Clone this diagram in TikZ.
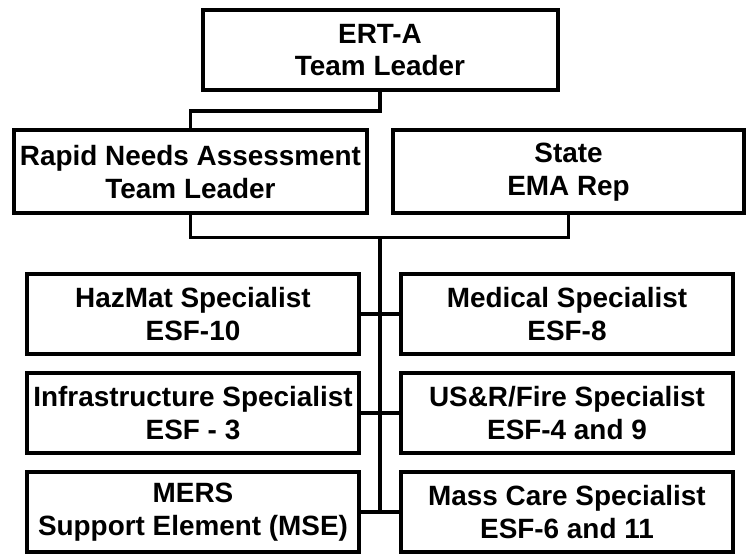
\documentclass[tikz,border=0pt]{standalone}
\usepackage{fontspec}
\setmainfont{Liberation Sans}
\usetikzlibrary{positioning}

\begin{document}
\begin{tikzpicture}[x=1bp, y=-1bp, node distance=15bp and 38bp]
      \useasboundingbox (0,0) rectangle (749,557);
      \begin{scope}[every node/.style={draw,line width=4bp,align=center,inner sep=0pt,
          minimum width=332bp,minimum height=80bp,font=\fontsize{28}{33}\selectfont\bfseries}]
        \node (ert) [minimum width=355bp] at (380,50) {ERT-A\\Team Leader};
        \node (rna) [minimum width=353bp,minimum height=83bp] at (190.5,172) {Rapid Needs Assessment\\Team Leader};
        \node (state) [minimum width=351bp,minimum height=83bp] [right=22bp of rna] {State\\EMA Rep};
        \node (hazmat) at (193,314) {HazMat Specialist\\ESF-10};
        \node (medical) [right=of hazmat] {Medical Specialist\\ESF-8};
        \node (infra) [below=of hazmat] {Infrastructure Specialist\\ESF - 3};
        \node (usr) [right=of infra] {US\&R/Fire Specialist\\ESF-4 and 9};
        \node (mers) [below=of infra] {MERS\\Support Element (MSE)};
        \node (mass) [right=of mers] {Mass Care Specialist\\ESF-6 and 11};
      \end{scope}
      \begin{scope}[every path/.style={draw,line width=3.5bp}]
        \path (ert.south) -- ++(0,19) -| (rna.north);
        \path (rna.south) -- ++(0,22) coordinate (j) -| (state.south);
        \path (j -| ert.south) -- (ert.south |- mers.east);
        \path (hazmat.east) -- (medical.west);
        \path (infra.east) -- (usr.west);
        \path (mers.east) -- (mass.west);
      \end{scope}
    \end{tikzpicture}
\end{document}
